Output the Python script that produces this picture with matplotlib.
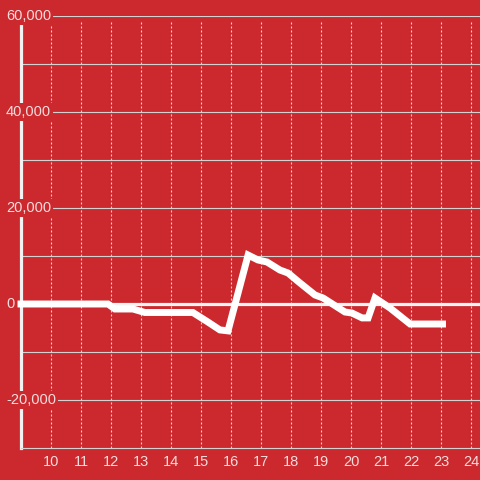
import matplotlib
matplotlib.use("Agg")
import matplotlib.pyplot as plt

# hour of day vs. running balance
hours = [9.0, 11.9, 12.13, 12.73, 13.13, 14.73, 15.23, 15.63, 15.9, 16.57,
         16.9, 17.2, 17.63, 17.9, 18.3, 18.8, 19.07, 19.8, 20.03, 20.37,
         20.57, 20.8, 21.3, 21.97, 23.05]
balance = [0, 0, -1040, -1040, -1770, -1770, -3750, -5400, -5600, 10200,
           9170, 8750, 7080, 6460, 4380, 1875, 1250, -1670, -1875, -2900,
           -2900, 1250, -830, -4170, -4170]

x_ticks = list(range(10, 25))
y_ticks = [-20000, 0, 20000, 40000, 60000]
y_tick_labels = ["-20,000", "0", "20,000", "40,000", "60,000"]

bg = "#cc292e"
label_color = "#f3dcdc"

plt.rcParams["font.family"] = ["Liberation Sans", "DejaVu Sans"]

fig = plt.figure(figsize=(4.8, 4.8), dpi=100, facecolor=bg)
ax = fig.add_axes([21 / 480, 32 / 480, 459 / 480, 432 / 480])
ax.set_facecolor(bg)
ax.set_xlim(9, 24.3)
ax.set_ylim(-30000, 60000)

# grid
for v in range(-20000, 60001, 10000):
    if v != 0:
        ax.axhline(v, color="#d2d2d2", lw=0.8, zorder=1)
for t in x_ticks:
    ax.axvline(t, ymax=0.985, color="#d8d8d8", lw=0.8, ls=(0, (1.8, 1.8)), zorder=1)
ax.axhline(0, color="#f4f4f4", lw=2.3, zorder=2)

ax.plot(hours, balance, color="white", lw=5, solid_joinstyle="miter",
        solid_capstyle="projecting", zorder=3, clip_on=False)

for s in ["top", "right"]:
    ax.spines[s].set_visible(False)
ax.spines["left"].set_color("#f2f2f2")
ax.spines["left"].set_linewidth(2.3)
ax.spines["bottom"].set_color("#d2d2d2")
ax.spines["bottom"].set_linewidth(0.8)

ax.set_xticks(x_ticks)
ax.set_xticklabels([str(t) for t in x_ticks])
ax.tick_params(axis="x", length=0, pad=5, labelsize=10.5, labelcolor=label_color)
ax.set_yticks([])

# y labels sit on a red box over the axis line
for v, lab in zip(y_ticks, y_tick_labels):
    ax.text(-15 / 459, v, lab, transform=ax.get_yaxis_transform(),
            ha="left", va="center", fontsize=10.5, color=label_color,
            bbox=dict(facecolor=bg, edgecolor="none", pad=1.5),
            zorder=6, clip_on=False)

fig.savefig("out.png", dpi=100, facecolor=bg)
